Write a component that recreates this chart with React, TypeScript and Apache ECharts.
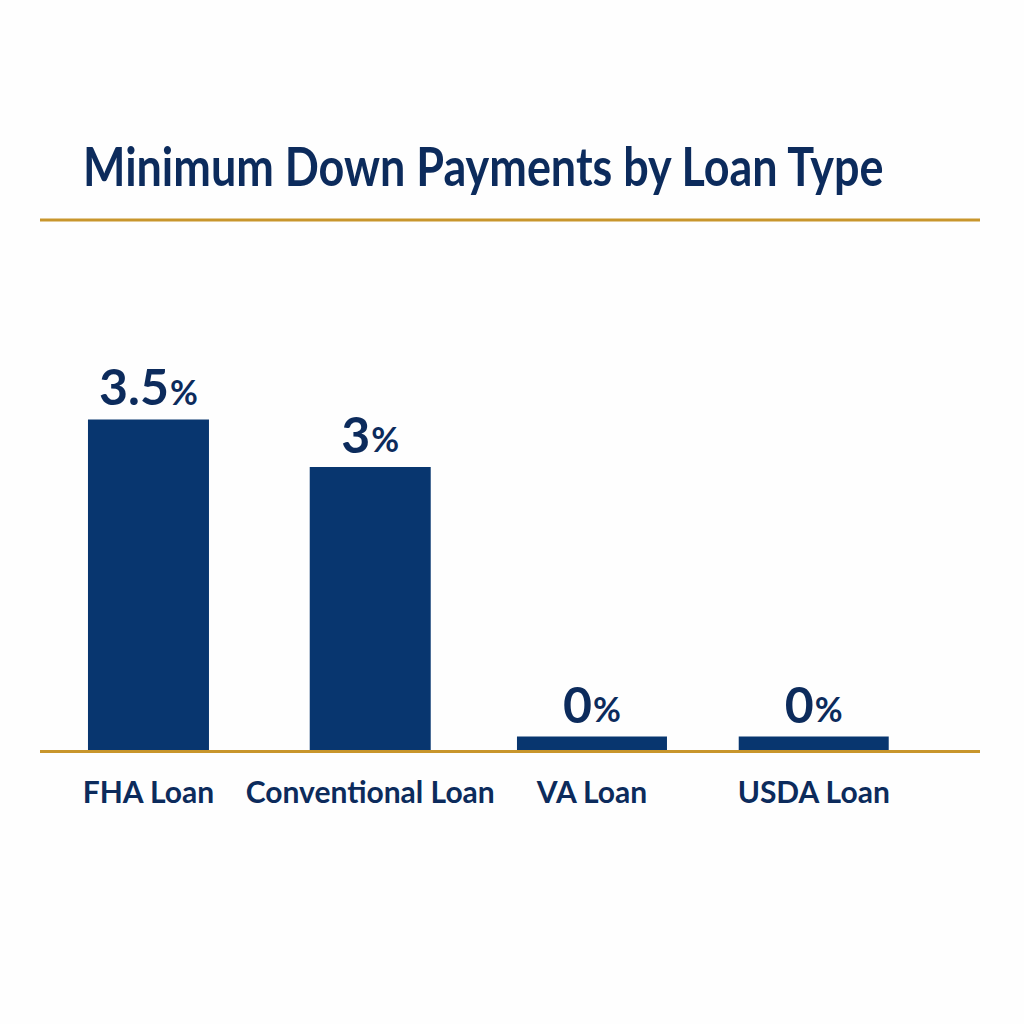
import React, { useEffect, useRef } from "react";
import * as echarts from "echarts";

const categories = ["FHA Loan", "Conventional Loan", "VA Loan", "USDA Loan"];
const narrowBarValues = [3.5, 3, null, null];
const wideBarValues = [null, null, 0, 0];
const titleText = "Minimum Down Payments by Loan Type";

const NAVY = "#0c2b5c";
const BAR = "#08366f";
const GOLD = "#c8962c";
const FONT = "Lato, 'Open Sans', sans-serif";

export default function App() {
  const ref = useRef<HTMLDivElement>(null);
  useEffect(() => {
    const chart = echarts.init(ref.current!, null, { renderer: "svg" });
    const label = {
      show: true,
      position: "top",
      distance: 8,
      formatter: "{n|{c}}{p|%}",
      rich: {
        n: { fontFamily: FONT, fontWeight: "bold", fontSize: 50, color: NAVY },
        p: { fontFamily: FONT, fontWeight: "bold", fontSize: 34, color: NAVY, verticalAlign: "bottom", padding: [0, 0, 3, 1] },
      },
    };
    chart.setOption({
      animation: false,
      backgroundColor: "#fefefe",
      grid: { left: 37.6, right: 99.4, top: 372, bottom: 272.5 },
      xAxis: [
        {
          type: "category",
          data: categories,
          axisLine: { show: false },
          axisTick: { show: false },
          axisLabel: { interval: 0, margin: 24, fontFamily: FONT, fontWeight: "bold", fontSize: 30, color: NAVY },
        },
        { type: "category", data: categories, show: false },
      ],
      yAxis: { type: "value", min: 0, max: 4, show: false, splitLine: { show: false } },
      series: [
        { type: "bar", xAxisIndex: 0, data: narrowBarValues, barWidth: 121, itemStyle: { color: BAR }, label },
        { type: "bar", xAxisIndex: 1, data: wideBarValues, barWidth: 150, barMinHeight: 15, itemStyle: { color: BAR }, label },
      ],
      graphic: [
        {
          type: "text", x: 83, y: 138, scaleX: 0.832,
          style: { text: titleText, fontFamily: FONT, fontWeight: "bold", fontSize: 54, fill: NAVY },
        },
        { type: "line", shape: { x1: 40, y1: 220, x2: 980, y2: 220 }, style: { stroke: GOLD, lineWidth: 3 } },
        { type: "line", z: 100, shape: { x1: 40, y1: 751.5, x2: 980, y2: 751.5 }, style: { stroke: GOLD, lineWidth: 3 } },
      ],
    });
    return () => chart.dispose();
  }, []);
  return <div ref={ref} style={{ position: "fixed", left: 0, top: 0, width: 1024, height: 1024 }} />;
}
